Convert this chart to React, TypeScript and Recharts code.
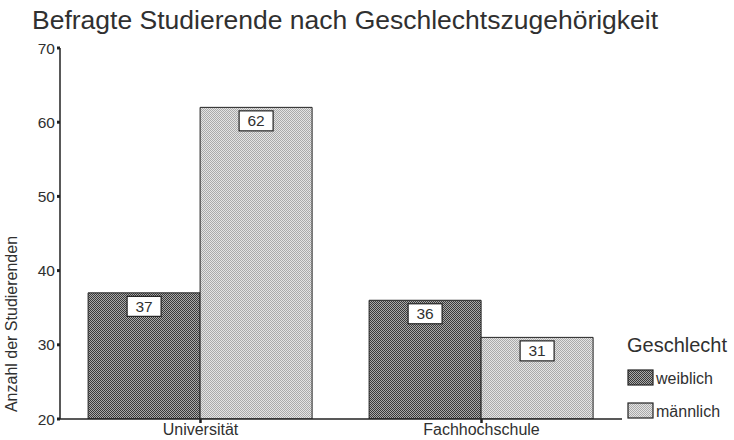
import React from "react";
import { BarChart, Bar, XAxis, YAxis, LabelList } from "recharts";

const categories = ["Universität", "Fachhochschule"];
const weiblich = [37, 36];
const maennlich = [62, 31];
const yTicks = [20, 30, 40, 50, 60, 70];
const seriesNames = ["weiblich", "männlich"];
const legendTitle = "Geschlecht";
const chartTitle = "Befragte Studierende nach Geschlechtszugehörigkeit";
const yLabel = "Anzahl der Studierenden";

const data = categories.map((c, i) => ({ name: c, w: weiblich[i], m: maennlich[i] }));

const FONT = "'Liberation Sans', Arial, Helvetica, sans-serif";
const INK = "#303030";

const ValueBox = (props: any) => {
  const { x, y, width, value } = props;
  const cx = Number(x) + Number(width) / 2;
  const top = Number(y) + 3.5;
  return (
    <g>
      <rect x={cx - 17} y={top} width={34} height={20} fill="#fff" stroke="#222" strokeWidth={1.2} />
      <text x={cx} y={top + 15.5} textAnchor="middle" fontSize={15.5} fontFamily={FONT} fill={INK}>
        {value}
      </text>
    </g>
  );
};

export default function App() {
  React.useEffect(() => {
    document.body.style.margin = "0";
  }, []);
  return (
    <div style={{ position: "relative", width: 734, height: 440, background: "#fff", fontFamily: FONT }}>
      <style>{"body{margin:0}"}</style>
      <svg width={0} height={0} style={{ position: "absolute" }}>
        <defs>
          <pattern id="patW" width={2} height={2} patternUnits="userSpaceOnUse">
            <rect width={2} height={2} fill="#aaaaaa" />
            <rect x={0} y={0} width={1} height={1} fill="#3a3a3a" />
            <rect x={1} y={1} width={1} height={1} fill="#3a3a3a" />
          </pattern>
          <pattern id="patM" width={2} height={2} patternUnits="userSpaceOnUse">
            <rect width={2} height={2} fill="#e4e4e4" />
            <rect x={0} y={0} width={1} height={1} fill="#aaaaaa" />
            <rect x={1} y={1} width={1} height={1} fill="#aaaaaa" />
          </pattern>
        </defs>
      </svg>
      <BarChart
        width={734}
        height={440}
        data={data}
        margin={{ top: 48, right: 112, left: 0, bottom: 0 }}
        barCategoryGap="10%"
        barGap={0}
      >
        <XAxis
          dataKey="name"
          height={21}
          axisLine={{ stroke: "#222", strokeWidth: 1.5 }}
          tickLine={{ stroke: "#222", strokeWidth: 2.5 }}
          tickSize={4}
          tickMargin={1}
          tick={{ fontSize: 16, fill: INK, fontFamily: FONT }}
        />
        <YAxis
          width={60}
          domain={[20, 70]}
          ticks={yTicks}
          allowDataOverflow
          axisLine={{ stroke: "#222", strokeWidth: 1.5 }}
          tickLine={{ stroke: "#222", strokeWidth: 3 }}
          tickSize={3}
          tickMargin={2}
          tick={{ fontSize: 15.5, fill: INK, fontFamily: FONT }}
        />
        <Bar dataKey="w" name={seriesNames[0]} fill="url(#patW)" stroke="#222" strokeWidth={1} isAnimationActive={false}>
          <LabelList dataKey="w" content={ValueBox} />
        </Bar>
        <Bar dataKey="m" name={seriesNames[1]} fill="url(#patM)" stroke="#222" strokeWidth={1} isAnimationActive={false}>
          <LabelList dataKey="m" content={ValueBox} />
        </Bar>
      </BarChart>
      <svg width={734} height={440} style={{ position: "absolute", left: 0, top: 0, pointerEvents: "none" }}>
        <text x={32} y={29} fontSize={26.5} fontFamily={FONT} fill={INK}>
          {chartTitle}
        </text>
        <text
          transform="translate(17,324) rotate(-90)"
          textAnchor="middle"
          fontSize={16}
          fontFamily={FONT}
          fill={INK}
        >
          {yLabel}
        </text>
        <text x={627} y={352} fontSize={20} fontFamily={FONT} fill={INK}>
          {legendTitle}
        </text>
        <rect x={628} y={370} width={25} height={15} fill="url(#patW)" stroke="#222" strokeWidth={1.2} />
        <text x={656} y={384} fontSize={16} fontFamily={FONT} fill={INK}>
          {seriesNames[0]}
        </text>
        <rect x={628} y={403} width={25} height={15} fill="url(#patM)" stroke="#222" strokeWidth={1.2} />
        <text x={656} y={417} fontSize={16} fontFamily={FONT} fill={INK}>
          {seriesNames[1]}
        </text>
      </svg>
    </div>
  );
}
